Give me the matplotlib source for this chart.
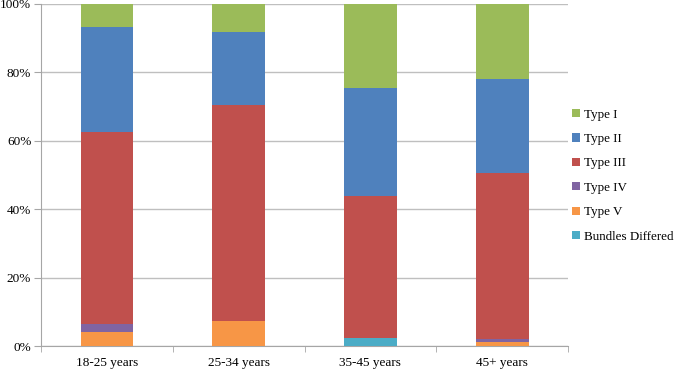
#!/usr/bin/env python3
# -*- coding: utf-8 -*-

import matplotlib
matplotlib.use('Agg')
import matplotlib.pyplot as plt
from matplotlib.patches import Patch
from matplotlib.ticker import FixedLocator

# data (percent of each age group)
groups = ['18-25 years', '25-34 years', '35-45 years', '45+ years']
series_names = ['Bundles Differed', 'Type V', 'Type IV', 'Type III', 'Type II', 'Type I']
bundles_differed = [0.0, 0.0, 2.3, 0.0]
type_v = [4.0, 7.3, 0.0, 1.1]
type_iv = [2.5, 0.0, 0.0, 0.9]
type_iii = [56.2, 63.2, 41.6, 48.5]
type_ii = [30.7, 21.2, 31.6, 27.7]
type_i = [6.6, 8.3, 24.5, 21.8]

colors = ['#4BACC6', '#F79646', '#8064A2', '#C0504D', '#4F81BD', '#9BBB59']


def plot():
    plt.rcParams['font.family'] = ['Liberation Serif', 'DejaVu Serif']
    fig = plt.figure(figsize=(6.74, 3.69), dpi=100)
    ax = fig.add_axes([0.0608, 0.0623, 0.782, 0.927])

    # stacked bars
    x = list(range(len(groups)))
    values = [bundles_differed, type_v, type_iv, type_iii, type_ii, type_i]
    bottom = [0.0] * len(groups)
    for name, vals, c in zip(series_names, values, colors):
        ax.bar(x, vals, width=0.4, bottom=bottom, color=c, zorder=3)
        bottom = [b + v for b, v in zip(bottom, vals)]

    # axes
    ax.set_xlim(-0.5, len(groups) - 0.5)
    ax.set_ylim(0, 100)
    ax.set_yticks([0, 20, 40, 60, 80, 100])
    ax.set_yticklabels(['%d%%' % v for v in [0, 20, 40, 60, 80, 100]])
    ax.set_xticks(x)
    ax.set_xticklabels(groups)
    ax.xaxis.set_minor_locator(FixedLocator([i - 0.5 for i in range(len(groups) + 1)]))
    ax.tick_params(axis='x', which='major', length=0, pad=8, labelsize=9.5)
    ax.tick_params(axis='x', which='minor', length=4, color='#A6A6A6')
    ax.tick_params(axis='y', length=5, color='#A6A6A6', pad=2, labelsize=9.5)
    ax.grid(axis='y', color='#BFBFBF', lw=1, zorder=0)
    for s in ['top', 'right']:
        ax.spines[s].set_visible(False)
    for s in ['left', 'bottom']:
        ax.spines[s].set_color('#A6A6A6')

    # legend, top entry is the top of the stack
    handles = [Patch(facecolor=c) for c in colors][::-1]
    fig.legend(handles, series_names[::-1], loc='center left',
               bbox_to_anchor=(0.849, 0.524), frameon=False, fontsize=9.4,
               handlelength=0.6, handleheight=0.6, handletextpad=0.3,
               labelspacing=0.95, borderaxespad=0, borderpad=0)

    fig.savefig('out.png', dpi=100)


def main():
    plot()


if __name__ == '__main__':
    main()
